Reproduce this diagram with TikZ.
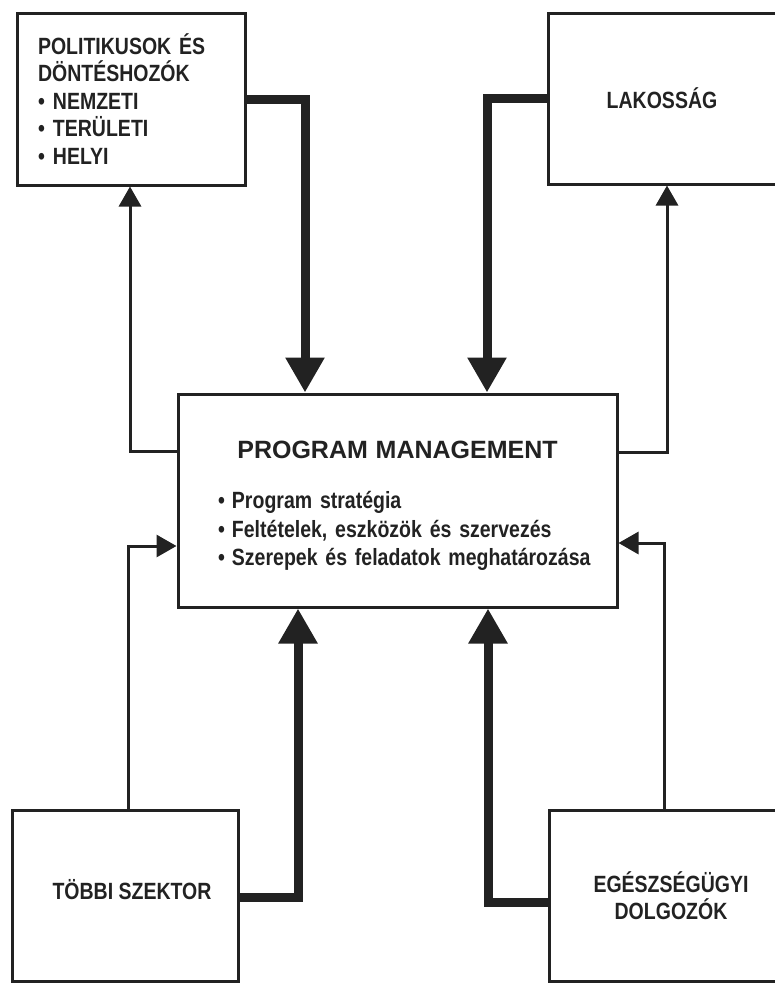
\documentclass[tikz,border=0pt]{standalone}
\usepackage{fontspec}
\setmainfont{Liberation Sans}[FakeStretch=0.83]
\newfontfamily\titlefont{Liberation Sans}
\usetikzlibrary{arrows.meta}
\definecolor{ink}{HTML}{222222}
\begin{document}
\begin{tikzpicture}[x=1pt,y=-1pt,
  box/.style={draw=ink, line width=3pt, rectangle, inner sep=0pt, text=ink,
    font=\bfseries\fontsize{23.5}{27.5}\selectfont},
  thinconn/.style={draw=ink, line width=3pt, -{Triangle[length=20pt,width=22pt]}},
  thickconn/.style={draw=ink, line width=9pt, -{Triangle[length=35pt,width=37pt]}}]
\useasboundingbox (0,0) rectangle (775,983);

% boxes
\node[box, minimum width=228pt, minimum height=172pt, text width=186pt, align=left] (pol) at (131,99)
  {POLITIKUSOK ÉS\\DÖNTÉSHOZÓK\\\makebox[15pt][l]{•}NEMZETI\\\makebox[15pt][l]{•}TERÜLETI\\\makebox[15pt][l]{•}HELYI};
\node[box, minimum width=228pt, minimum height=171pt] (lak) at (662,98.5) {LAKOSSÁG};
\node[box, minimum width=439pt, minimum height=213pt, text width=400pt, align=left,
      font=\bfseries\fontsize{23.5}{28.5}\selectfont] (main) at (397.5,500.5)
  {\rule{0pt}{28pt}\makebox[400pt][c]{\titlefont\fontsize{25}{28.5}\selectfont PROGRAM MANAGEMENT}\\[22pt]
   \hspace*{20.5pt}\makebox[14pt][l]{•}Program stratégia\\
   \hspace*{20.5pt}\makebox[14pt][l]{•}Feltételek, eszközök és szervezés\\
   \hspace*{20.5pt}\makebox[14pt][l]{•}Szerepek és feladatok meghatározása};
\node[box, minimum width=226pt, minimum height=171pt, text height=17pt, text depth=9pt] (tob) at (125,895.5) {\hspace*{14pt}TÖBBI SZEKTOR};
\node[box, minimum width=228pt, minimum height=171pt, align=center] (egy) at (663,895.5) {\hspace*{16pt}EGÉSZSÉGÜGYI\\\hspace*{16pt}DOLGOZÓK};

% helper coordinates
\coordinate (x130) at (130,0);
\coordinate (x128) at (128,0);
\coordinate (x305) at (305,0);
\coordinate (x487) at (487,0);
\coordinate (x298) at (298,0);
\coordinate (x488) at (488,0);
\coordinate (x667) at (667,0);
\coordinate (x664) at (664,0);
\coordinate (y451) at (0,451);
\coordinate (y452) at (0,452);
\coordinate (y546) at (0,546);
\coordinate (y543) at (0,543);
\coordinate (y897) at (0,897);
\coordinate (y902) at (0,902);

% thick connectors
\draw[thickconn] (pol.east) -| (main.north -| x305);
\draw[thickconn] (lak.west) -| (main.north -| x487);
\draw[thickconn] (tob.east |- y897) -| (main.south -| x298);
\draw[thickconn] (egy.west |- y902) -| (main.south -| x488);

% thin connectors
\draw[thinconn] (main.west |- y451) -| (pol.south -| x130);
\draw[thinconn] (main.east |- y452) -| (lak.south -| x667);
\draw[thinconn] (tob.north -| x128) |- (main.west |- y546);
\draw[thinconn] (egy.north -| x664) |- (main.east |- y543);
\end{tikzpicture}
\end{document}
